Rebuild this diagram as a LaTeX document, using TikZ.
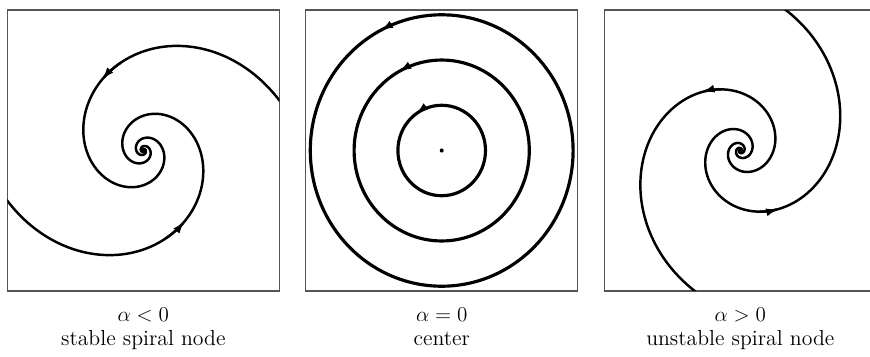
\documentclass[tikz,border=0pt]{standalone}
\usepackage{amsmath}
\usepackage{tikz}
\usetikzlibrary{arrows.meta, decorations.markings}
\definecolor{framegray}{RGB}{85,85,85}

\begin{document}
\begin{tikzpicture}[
    x=0.02cm, y=0.02cm,
    >={Latex[length=2.5mm, width=1.6mm]},
    declare function={rin(\t)=161.9*exp(-\t/171.89); rout(\t)=94.65*exp(\t/171.89);},
    frame/.style={draw=framegray, line width=0.7pt},
    orbit/.style={line width=1.4pt, line join=round},
    ring/.style={line width=1.8pt},
    ringarrow/.style={postaction={decorate}, decoration={markings, mark=at position #1 with {\arrow{Latex[length=2.5mm, width=1.6mm]}}}},
    caption/.style={anchor=base, font=\fontsize{12.4}{14}\selectfont},
]
    \useasboundingbox (0,0) rectangle (870,356);

    % alpha < 0
    \begin{scope}[shift={(143.3,205.5)}, y=0.02066cm]
        \draw[frame] (-136,-136) rectangle (136,136);
        \clip (-136,-136) rectangle (136,136);
        \foreach \s in {0,180} {
            \draw[orbit] plot[smooth, domain=10+\s:1500+\s, samples=360] ({rin(\x-\s)*cos(\x)}, {rin(\x-\s)*sin(\x)});
            \draw[orbit, ->] plot[smooth, domain=105+\s:121+\s, samples=8] ({rin(\x-\s)*cos(\x)}, {rin(\x-\s)*sin(\x)});
        }
    \end{scope}

    % alpha = 0
    \begin{scope}[shift={(441.7,205.5)}, y=0.02066cm]
        \draw[frame] (-136,-136) rectangle (136,136);
        \fill (0,0) circle[radius=2];
        \foreach \r/\p in {43.8/0.349, 87.6/0.330, 131.4/0.326}
            \draw[ring, ringarrow=\p] (\r,0) arc[start angle=0, end angle=360, radius=\r];
    \end{scope}

    % alpha > 0
    \begin{scope}[shift={(740.3,205.5)}, y=0.02066cm]
        \draw[frame] (-136,-136) rectangle (136,136);
        \clip (-136,-136) rectangle (136,136);
        \foreach \s in {0,180} {
            \draw[orbit] plot[smooth, domain=-1300+\s:80+\s, samples=360] ({rout(\x-\s)*cos(\x)}, {rout(\x-\s)*sin(\x)});
            \draw[orbit, ->] plot[smooth, domain=-72+\s:-56+\s, samples=8] ({rout(\x-\s)*cos(\x)}, {rout(\x-\s)*sin(\x)});
        }
    \end{scope}

    \node[caption] (negcase) at (143.3,34.3) {$\alpha<0$};
    \node[caption] (negname) at (143.3,11) {stable spiral node};
    \node[caption] (zerocase) at (441.7,34.3) {$\alpha=0$};
    \node[caption] (zeroname) at (441.7,11) {center};
    \node[caption] (poscase) at (740.3,34.3) {$\alpha>0$};
    \node[caption] (posname) at (740.3,11) {unstable spiral node};
\end{tikzpicture}
\end{document}
